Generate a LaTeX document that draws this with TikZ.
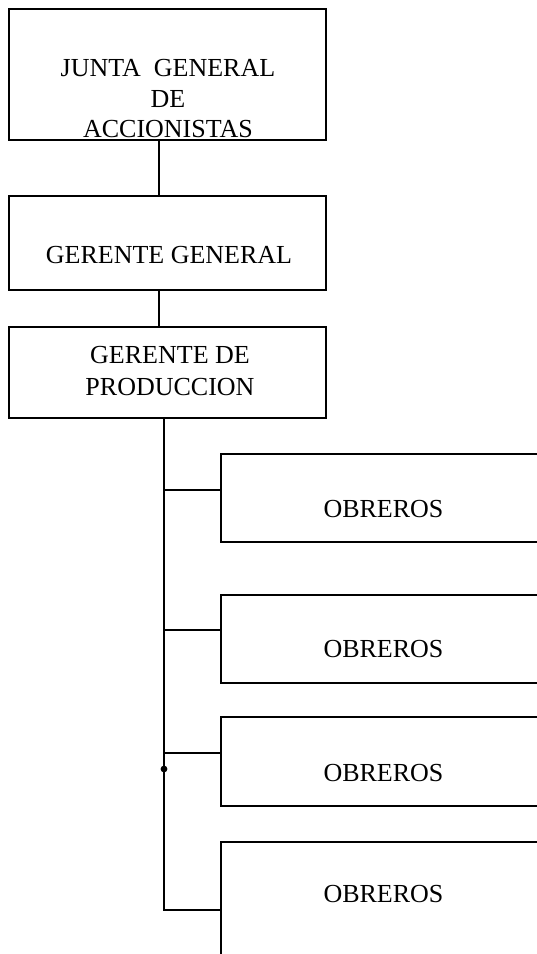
\documentclass[tikz,border=0pt]{standalone}
\usepackage{fontspec}
\setmainfont{Liberation Serif}
\begin{document}
\begin{tikzpicture}[x=1pt,y=-1pt,
  box/.style={draw,line width=1.2pt,rectangle,outer sep=0pt,inner sep=0pt},
  lbl/.style={anchor=base,inner sep=0pt,font=\fontsize{26}{30}\selectfont},
  conn/.style={line width=1.2pt}]
\useasboundingbox (0,0) rectangle (537,954);
\clip (0,0) rectangle (537,954);
% upper boxes
\node[box,minimum width=317pt,minimum height=131pt] (junta) at (167.5,74.5) {};
\node[box,minimum width=317pt,minimum height=94pt] (gg) at (167.5,243) {};
\node[box,minimum width=317pt,minimum height=91pt] (gp) at (167.5,372.5) {};
% labels
\node[lbl] (t1) at (168,76) {JUNTA\ \ GENERAL};
\node[lbl] (t2) at (168,107) {DE};
\node[lbl] (t3) at (168,137) {ACCIONISTAS};
\node[lbl] (t4) at (169,263) {GERENTE GENERAL};
\node[lbl] (t5) at (170,363) {GERENTE DE};
\node[lbl] (t6) at (170,395) {PRODUCCION};
% obreros boxes
\node[box,minimum width=325pt,minimum height=88pt] (o1) at (383.5,498) {};
\node[box,minimum width=325pt,minimum height=88pt] (o2) at (383.5,639) {};
\node[box,minimum width=325pt,minimum height=89pt] (o3) at (383.5,761.5) {};
\node[box,minimum width=325pt,minimum height=158pt] (o4) at (383.5,921) {};
\node[lbl] (l1) at (383.5,517) {OBREROS};
\node[lbl] (l2) at (383.5,657) {OBREROS};
\node[lbl] (l3) at (383.5,781) {OBREROS};
\node[lbl] (l4) at (383.5,902) {OBREROS};
% connectors
\coordinate (cx) at (159,0);
\coordinate (tx) at (164,0);
\draw[conn] (junta.south -| cx) -- (gg.north -| cx);
\draw[conn] (gg.south -| cx) -- (gp.north -| cx);
\coordinate (b1) at (164,490);
\coordinate (b2) at (164,630);
\coordinate (b3) at (164,753);
\coordinate (b4) at (164,910);
\draw[conn] (gp.south -| tx) -- (b4) -- (b4 -| o4.west);
\draw[conn] (b1) -- (b1 -| o1.west);
\draw[conn] (b2) -- (b2 -| o2.west);
\draw[conn] (b3) -- (b3 -| o3.west);
\coordinate (dot) at (164,769);
\fill (dot) circle (3.4pt);
\end{tikzpicture}
\end{document}
